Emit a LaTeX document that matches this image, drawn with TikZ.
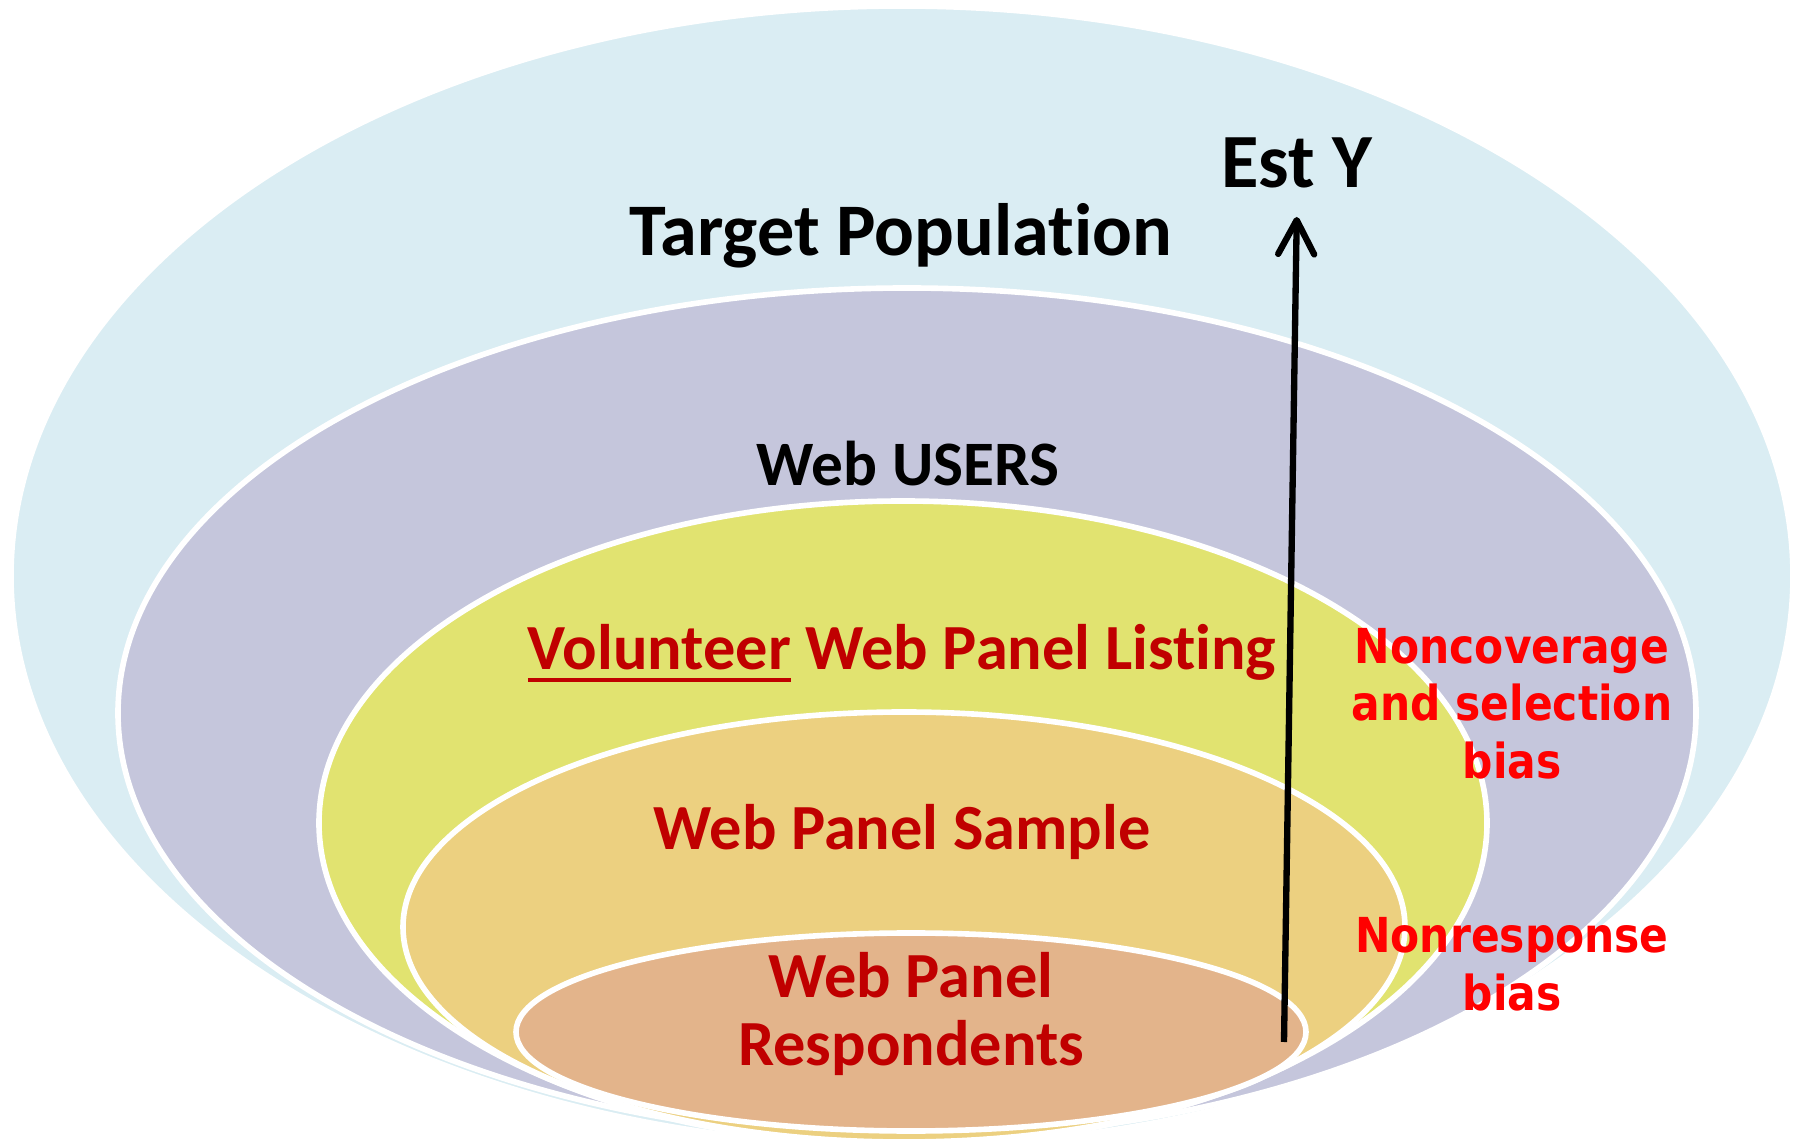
\documentclass[tikz,border=0pt]{standalone}
\usepackage{fontspec}
\setmainfont{Carlito}[Ligatures={NoCommon,NoContextual}]
\newfontfamily\biasfont[FakeStretch=0.88]{DejaVu Sans}
\usetikzlibrary{arrows.meta, positioning}
\definecolor{popblue}{RGB}{218,237,243}
\definecolor{userpurple}{RGB}{197,198,220}
\definecolor{listyellow}{RGB}{225,227,112}
\definecolor{sampletan}{RGB}{236,208,128}
\definecolor{respbrown}{RGB}{227,180,139}
\definecolor{panelred}{RGB}{192,0,0}
\definecolor{biasred}{RGB}{255,0,0}
\newcommand{\thickul}[1]{\setbox0\hbox{#1}\rlap{\rule[-3.4pt]{\wd0}{1.15pt}}\box0\relax}

\begin{document}
\begin{tikzpicture}[x=0.01cm, y=-0.01cm,
    ring/.style={draw=white, line width=1.6pt, fill=#1},
    title/.style={font=\fontsize{#1}{19.3}\selectfont\bfseries, anchor=base},
    panel/.style={title=18.3, text=panelred, align=center},
    bias/.style={font=\biasfont\fontsize{13.7}{16.3}\selectfont\bfseries,
                 text=biasred, align=center, anchor=base}
]
    \useasboundingbox (0,0) rectangle (1805,1140);

    % Nested populations
    \draw[ring=popblue] (902,576) ellipse [x radius=891, y radius=570];
    \draw[ring=userpurple] (907,713) ellipse [x radius=789, y radius=425];
    \draw[ring=listyellow] (903,823) ellipse [x radius=584, y radius=322];
    \draw[ring=sampletan] (904,927) ellipse [x radius=501, y radius=215];
    \draw[ring=respbrown] (911,1032) ellipse [x radius=395, y radius=99];

    % Labels
    \node[title=21.1] (tpop) at (901,256) {Target Population};
    \node[title=21.8] (esty) at (1297,188) {Est Y};
    \node[title=18.0] (users) at (908,486) {Web USERS};
    \node[panel] (listing) at (902,670) {\thickul{Volunteer} Web Panel Listing};
    \node[panel] (sample) at (902,850) {Web Panel Sample};
    \node[panel] (resp) at (911,1065) {Web Panel\\Respondents};

    % Bias labels
    \node[bias] (noncov) at (1512,778) {Noncoverage\\and selection\\bias};
    \node[bias] (nonresp) at (1512,1010) {Nonresponse\\bias};

    % Estimate arrow
    \coordinate (yfoot) at (1284,1042);
    \draw[line width=1.8pt, shorten >=0.16cm,
          -{Straight Barb[length=0.34cm, width=0.36cm, round]}] (yfoot) -- (esty.south);
\end{tikzpicture}
\end{document}
